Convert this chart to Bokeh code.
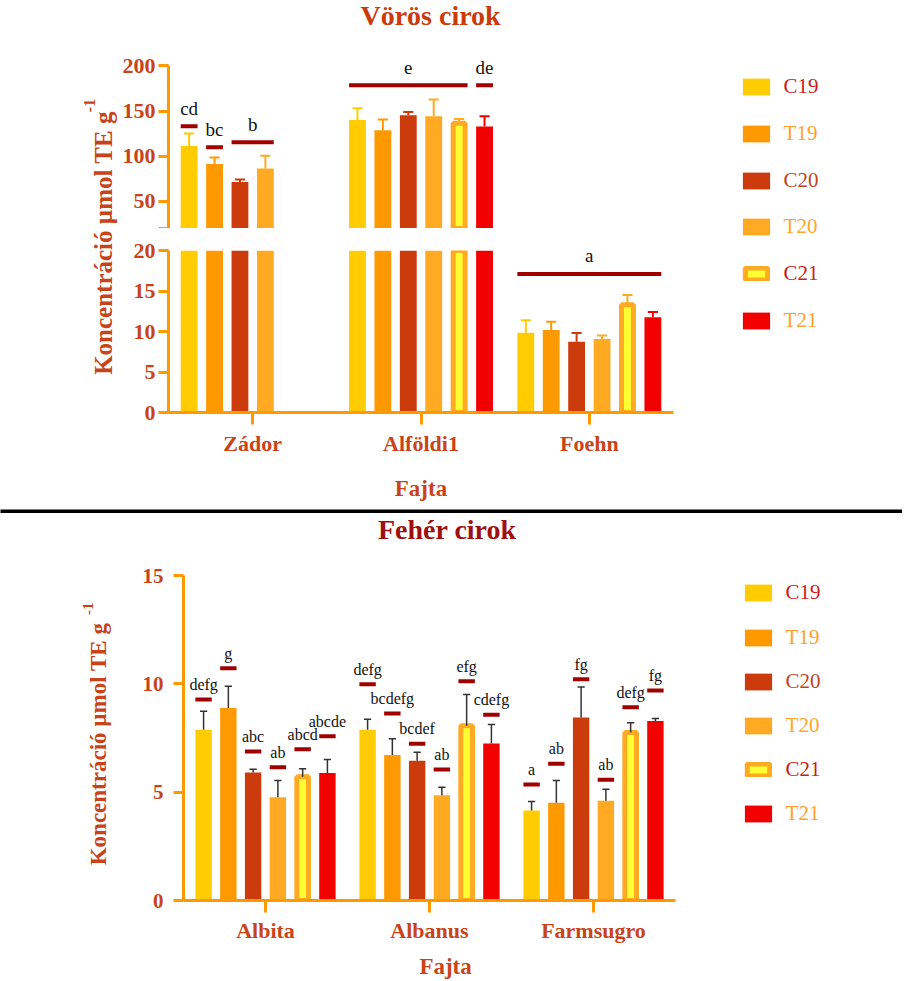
import math
from bokeh.plotting import figure
from bokeh.layouts import row, column
from bokeh.models import (ColumnDataSource, FactorRange, Range1d, FixedTicker,
                          Legend, LegendItem)
from bokeh.transform import dodge
from bokeh.core.properties import value
from bokeh.embed import file_html
from bokeh.resources import INLINE

NaN = float("nan")

# ------------------------------------------------------------------ data
series = ["C19", "T19", "C20", "T20", "C21", "T21"]

# Vörös cirok (red sorghum)
red_cultivars = ["Zádor", "Alföldi1", "Foehn"]
red_C19 = [111.4, 140.2, 9.86]
red_T19 = [91.5, 128.8, 10.2]
red_C20 = [71.6, 145.4, 8.75]
red_T20 = [86.4, 144.3, 9.08]
red_C21 = [NaN, 136.6, 13.3]
red_T21 = [NaN, 132.9, 11.75]
red_C19_sd = [13.8, 13.0, 1.54]
red_T19_sd = [7.1, 11.9, 1.0]
red_C20_sd = [2.6, 3.7, 1.05]
red_T20_sd = [14.0, 18.5, 0.42]
red_C21_sd = [NaN, 4.7, 1.2]
red_T21_sd = [NaN, 11.4, 0.65]

red_sig_letters = ["cd", "bc", "b", "e", "de", "a"]
red_sig_cultivar = ["Zádor", "Zádor", "Zádor", "Alföldi1", "Alföldi1", "Foehn"]
red_sig_first = ["C19", "T19", "C20", "C19", "T21", "C19"]
red_sig_last = ["C19", "T19", "T20", "C21", "T21", "T21"]
red_sig_level = [133.2, 110.0, 115.5, 178.6, 178.6, 17.1]

red_upper_ticks = [20, 50, 100, 150, 200]
red_lower_ticks = [0, 5, 10, 15, 20]

# Fehér cirok (white sorghum)
white_cultivars = ["Albita", "Albanus", "Farmsugro"]
white_C19 = [7.88, 7.88, 4.15]
white_T19 = [8.88, 6.71, 4.51]
white_C20 = [5.91, 6.45, 8.45]
white_T20 = [4.77, 4.86, 4.60]
white_C21 = [5.71, 8.06, 7.75]
white_T21 = [5.89, 7.25, 8.28]
white_C19_sd = [0.86, 0.49, 0.42]
white_T19_sd = [1.01, 0.75, 1.03]
white_C20_sd = [0.15, 0.39, 1.40]
white_T20_sd = [0.77, 0.37, 0.54]
white_C21_sd = [0.37, 1.45, 0.45]
white_T21_sd = [0.62, 0.87, 0.12]

white_sig_letters = ["defg", "g", "abc", "ab", "abcd", "abcde",
                     "defg", "bcdefg", "bcdef", "ab", "efg", "cdefg",
                     "a", "ab", "fg", "ab", "defg", "fg"]
white_sig_level = [9.28, 10.72, 6.88, 6.15, 6.98, 7.58,
                   9.98, 8.63, 7.23, 6.05, 10.12, 8.57,
                   5.35, 6.31, 10.21, 5.57, 8.92, 9.69]

white_ticks = [0, 5, 10, 15]

# ------------------------------------------------------------------ style
FONT = "Liberation Serif"
AXIS_COLOR = "#FF9900"
LABEL_COLOR = "#C9431A"
SIG_COLOR = "#A00000"
FILL = {"C19": "#FFCC00", "T19": "#FF9900", "C20": "#CC3B0B",
        "T20": "#FFAA22", "C21": "#FFFF33", "T21": "#F20000"}
LINE = {"C19": None, "T19": None, "C20": None, "T20": None,
        "C21": "#FFAA22", "T21": None}
LINE_W = {s: 1 for s in series}
LINE_W["C21"] = 5
RED_ERR = {s: (LINE[s] or FILL[s]) for s in series}
WHITE_ERR = {s: "#333333" for s in series}
LEG_TEXT = {"C19": "#CC1A1A", "T19": "#FF9F2A", "C20": "#C0441E",
            "T20": "#FFA62A", "C21": "#CC1A1A", "T21": "#FF9F2A"}

STEP = 0.151
BAR_W = 0.1
C21_W = 0.071
LEG_DY = 2.5


def offset(s):
    return (series.index(s) - 2.5) * STEP


def bare_fig(w, h, **kw):
    f = figure(width=w, height=h, x_range=Range1d(0, w), y_range=Range1d(0, h),
               min_border=0, x_axis_location=None, y_axis_location=None,
               toolbar_location=None, output_backend="svg",
               outline_line_color=None, **kw)
    f.grid.visible = False
    return f


def style_axis(ax, tick_out, standoff, size):
    ax.axis_line_color = AXIS_COLOR
    ax.axis_line_width = 3
    ax.major_tick_line_color = AXIS_COLOR
    ax.major_tick_line_width = 3
    ax.major_tick_out = tick_out
    ax.major_tick_in = 0
    ax.minor_tick_line_color = None
    ax.major_label_text_font = FONT
    ax.major_label_text_font_style = "bold"
    ax.major_label_text_font_size = size
    ax.major_label_text_color = LABEL_COLOR
    ax.major_label_standoff = standoff


def bar_fig(cats, y_range, width, height, bl, br, bt, bb, show_x):
    p = figure(width=width, height=height, x_range=FactorRange(factors=cats),
               y_range=y_range, min_border_left=bl, min_border_right=br,
               min_border_top=bt, min_border_bottom=bb,
               x_axis_location="below" if show_x else None,
               toolbar_location=None, output_backend="svg",
               outline_line_color=None)
    p.grid.visible = False
    return p


def draw_bars(p, cats, means, sds, err_colors, err_w, cap, lo):
    for s in series:
        m, e = means[s], sds[s]
        keep = [i for i in range(len(cats)) if m[i] == m[i] and m[i] > lo]
        if not keep:
            continue
        src = ColumnDataSource(dict(cat=[cats[i] for i in keep],
                                    top=[m[i] for i in keep],
                                    hi=[m[i] + e[i] for i in keep]))
        off = offset(s)
        p.vbar(x=dodge("cat", off, range=p.x_range), top="top", bottom=0,
               width=C21_W if s == "C21" else BAR_W, source=src,
               fill_color=FILL[s], line_color=LINE[s], line_width=LINE_W[s])
        p.segment(x0=dodge("cat", off, range=p.x_range), y0="top",
                  x1=dodge("cat", off, range=p.x_range), y1="hi", source=src,
                  line_color=err_colors[s], line_width=err_w)
        p.segment(x0=dodge("cat", off - cap, range=p.x_range), y0="hi",
                  x1=dodge("cat", off + cap, range=p.x_range), y1="hi", source=src,
                  line_color=err_colors[s], line_width=err_w)


def draw_sig(p, cults, firsts, lasts, levels, letters, size, gap, lo, hi):
    for c, f, l, lv, t in zip(cults, firsts, lasts, levels, letters):
        if not (lo < lv <= hi):
            continue
        x0 = offset(f) - BAR_W / 2
        x1 = offset(l) + BAR_W / 2
        src = ColumnDataSource(dict(cat=[c], lv=[lv], t=[t]))
        p.segment(x0=dodge("cat", x0, range=p.x_range), y0="lv",
                  x1=dodge("cat", x1, range=p.x_range), y1="lv", source=src,
                  line_color=SIG_COLOR, line_width=4, line_cap="butt")
        p.text(x=dodge("cat", (x0 + x1) / 2, range=p.x_range), y="lv", text="t",
               source=src, y_offset=-gap, text_align="center",
               text_baseline="middle", text_font=value(FONT),
               text_font_size=value(size), text_color="#111111")


def legend_fig(w, h, centers, x_left):
    lf = bare_fig(w, h)
    for s, c in zip(series, centers):
        # an empty (NaN) mark per series, only so the legend glyph has a style to draw
        r = lf.vbar(x=[NaN], top=[NaN], bottom=[NaN], width=1, fill_color=FILL[s],
                    line_color=LINE[s], line_width=LINE_W[s])
        if s == "C21":
            gw, gh, xl, so = 28, 15, x_left + 3, 14
        else:
            gw, gh, xl, so = 34, 21, x_left, 11
        item_h = 21
        leg = Legend(items=[LegendItem(label=s, renderers=[r])],
                     location=(xl, h - c - item_h / 2 - LEG_DY),
                     glyph_width=gw, glyph_height=gh,
                     label_height=21, label_standoff=so, padding=0, margin=0,
                     spacing=0, label_text_font=FONT, label_text_font_size="21px",
                     label_text_color=LEG_TEXT[s], border_line_color=None,
                     background_fill_alpha=0)
        lf.add_layout(leg)
    return lf


# ------------------------------------------------------------------ top chart
red_means = dict(zip(series, [red_C19, red_T19, red_C20, red_T20, red_C21, red_T21]))
red_sds = dict(zip(series, [red_C19_sd, red_T19_sd, red_C20_sd, red_T20_sd, red_C21_sd, red_T21_sd]))

UP_PX = 162.6 / 180.0          # px per unit, upper segment
UP_FRAME = 176
fig_tu = bar_fig(red_cultivars, Range1d(20, 20 + UP_FRAME / UP_PX),
                 582, 188, 49, 28, 12, 0, False)
fig_tl = bar_fig(red_cultivars, Range1d(0, 20), 582, 277, 49, 28, 22, 93, True)

draw_bars(fig_tu, red_cultivars, red_means, red_sds, RED_ERR, 2, 0.03, 20)
draw_sig(fig_tu, red_sig_cultivar, red_sig_first, red_sig_last, red_sig_level,
         red_sig_letters, "19px", 18, 20, 1e9)
draw_bars(fig_tl, red_cultivars, red_means, red_sds, RED_ERR, 2, 0.03, -1e9)
draw_sig(fig_tl, red_sig_cultivar, red_sig_first, red_sig_last, red_sig_level,
         red_sig_letters, "19px", 18, -1e9, 20)

ya = fig_tu.yaxis[0]
style_axis(ya, 10, 3, "22px")
ya.ticker = FixedTicker(ticks=red_upper_ticks)
ya.bounds = (20, 200)
ya.major_label_overrides = {20: ""}

ya = fig_tl.yaxis[0]
style_axis(ya, 10, 3, "22px")
ya.ticker = FixedTicker(ticks=red_lower_ticks)

xa = fig_tl.xaxis[0]
style_axis(xa, 12, 6, "22px")
xa.axis_label = "Fajta"
xa.axis_label_text_font = FONT
xa.axis_label_text_font_style = "bold"
xa.axis_label_text_font_size = "23px"
xa.axis_label_text_color = LABEL_COLOR
xa.axis_label_standoff = 17

title_top = bare_fig(582, 40)
title_top.text(x=[302], y=[25], text=["Vörös cirok"], text_align="center",
               text_baseline="middle", text_font=value(FONT), text_font_style="bold",
               text_font_size=value("28px"), text_color="#CC3A0A")

ylab_top = bare_fig(119, 505)
ylab_top.text(x=[103], y=[262.5], text=["Koncentráció µmol TE g"], angle=math.pi / 2,
              text_align="center", text_baseline="middle", text_font=value(FONT),
              text_font_style="bold", text_font_size=value("25px"), text_color=LABEL_COLOR)
ylab_top.text(x=[89], y=[400], text=["-1"], angle=math.pi / 2,
              text_align="center", text_baseline="middle", text_font=value(FONT),
              text_font_style="bold", text_font_size=value("16px"), text_color=LABEL_COLOR)

leg_top = legend_fig(201, 505, [85.7 + i * 46.9 for i in range(6)], 37.6)

# ------------------------------------------------------------------ separator
sep = bare_fig(902, 8, background_fill_color="black", border_fill_color="black")

# ------------------------------------------------------------------ bottom chart
white_means = dict(zip(series, [white_C19, white_T19, white_C20, white_T20, white_C21, white_T21]))
white_sds = dict(zip(series, [white_C19_sd, white_T19_sd, white_C20_sd, white_T20_sd, white_C21_sd, white_T21_sd]))

fig_b = bar_fig(white_cultivars, Range1d(0, 15), 582, 400, 64, 26, 25, 50, True)
draw_bars(fig_b, white_cultivars, white_means, white_sds, WHITE_ERR, 1.5, 0.022, -1e9)
w_cults = [white_cultivars[k // 6] for k in range(len(white_sig_letters))]
w_series = [series[k % 6] for k in range(len(white_sig_letters))]
draw_sig(fig_b, w_cults, w_series, w_series, white_sig_level, white_sig_letters,
         "16px", 15, -1e9, 1e9)

ya = fig_b.yaxis[0]
style_axis(ya, 10, 10, "21px")
ya.ticker = FixedTicker(ticks=white_ticks)
xa = fig_b.xaxis[0]
style_axis(xa, 12, 5, "22px")

fajta_bot = bare_fig(582, 30)
fajta_bot.text(x=[310], y=[14], text=["Fajta"], text_align="center",
               text_baseline="middle", text_font=value(FONT), text_font_style="bold",
               text_font_size=value("23px"), text_color=LABEL_COLOR)

title_bot = bare_fig(582, 37)
title_bot.text(x=[312], y=[21], text=["Fehér cirok"], text_align="center",
               text_baseline="middle", text_font=value(FONT), text_font_style="bold",
               text_font_size=value("28px"), text_color="#9E1010")

ylab_bot = bare_fig(119, 467)
ylab_bot.text(x=[98], y=[236.5], text=["Koncentráció µmol TE g"], angle=math.pi / 2,
              text_align="center", text_baseline="middle", text_font=value(FONT),
              text_font_style="bold", text_font_size=value("23px"), text_color=LABEL_COLOR)
ylab_bot.text(x=[87], y=[371.7], text=["-1"], angle=math.pi / 2,
              text_align="center", text_baseline="middle", text_font=value(FONT),
              text_font_style="bold", text_font_size=value("15px"), text_color=LABEL_COLOR)

leg_bot = legend_fig(201, 467, [592.3 - 513 + i * 44.2 for i in range(6)], 39.6)

# ------------------------------------------------------------------ layout
top_block = row(ylab_top, column(title_top, fig_tu, fig_tl), leg_top)
bot_block = row(ylab_bot, column(title_bot, fig_b, fajta_bot), leg_bot)
layout = column(top_block, sep, bot_block)

open("out.html", "w").write(file_html(layout, INLINE))
